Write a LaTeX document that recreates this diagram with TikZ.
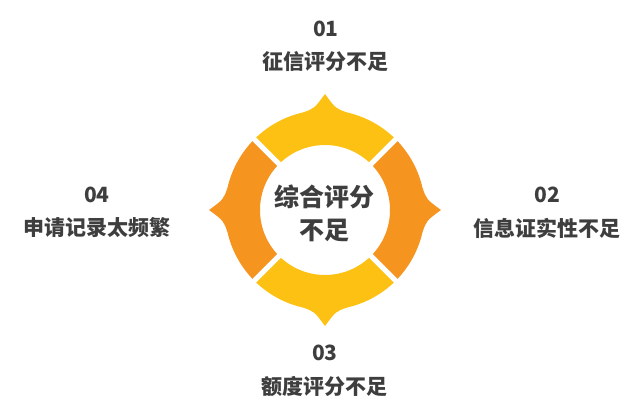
\documentclass[tikz,border=0pt]{standalone}
\usepackage{fontspec}
\setmainfont{Noto Sans CJK SC}
\definecolor{ringyellow}{RGB}{252,193,18}
\definecolor{ringorange}{RGB}{246,148,32}
\definecolor{textgrey}{RGB}{62,62,62}

\begin{document}
\begin{tikzpicture}[x=1pt,y=1pt,node distance=33pt,
                    label text/.style={text=textgrey,font=\bfseries\fontsize{21}{25}\selectfont,inner sep=0pt},
                    centre text/.style={text=textgrey,font=\bfseries\fontsize{25}{33}\selectfont,align=center,inner sep=0pt}]
  \useasboundingbox (-325,-205) rectangle (315,210);

  % ring segments with pointed tips
  \foreach \a/\c in {90/ringyellow,0/ringorange,270/ringyellow,180/ringorange}
    \fill[\c] (\a-45:65) -- (\a-45:100) arc[start angle=\a-45,end angle=\a-13,radius=100]
      .. controls (\a-6:102) .. (\a:116)
      .. controls (\a+6:102) .. (\a+13:100)
      arc[start angle=\a+13,end angle=\a+45,radius=100]
      -- (\a+45:65) arc[start angle=\a+45,end angle=\a-45,radius=65] -- cycle;
  % white gaps
  \foreach \a in {45,135,225,315}
    \draw[white,line width=5pt] (\a:60) -- (\a:112);

  \node[centre text] (ctr) at (0,-3.5) {综合评分\\不足};

  \node[label text] (n1) at (1,181)   {01};
  \node[label text] (t1) [below of=n1] {征信评分不足};
  \node[label text] (n2) at (222,15)  {02};
  \node[label text] (t2) [below of=n2] {信息证实性不足};
  \node[label text] (n3) at (0,-143)  {03};
  \node[label text] (t3) [below of=n3] {额度评分不足};
  \node[label text] (n4) at (-228,15) {04};
  \node[label text] (t4) [below of=n4] {申请记录太频繁};
\end{tikzpicture}
\end{document}
